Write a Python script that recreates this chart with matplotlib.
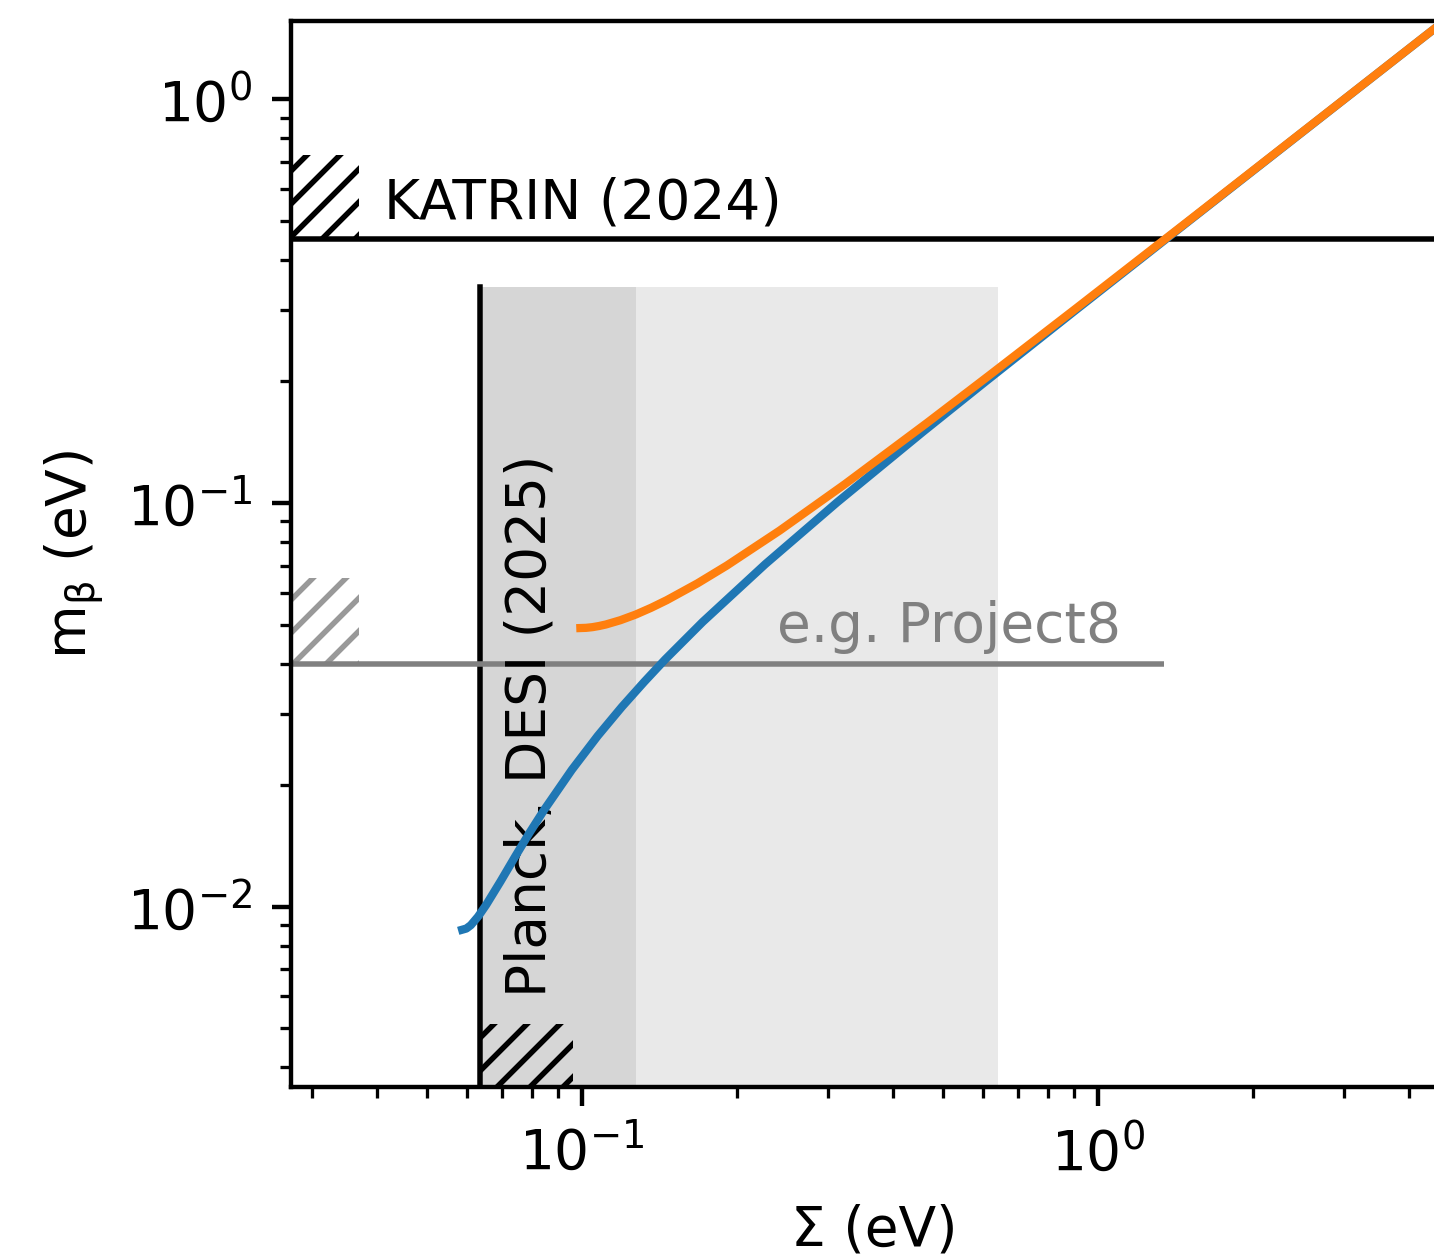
import numpy as np
import matplotlib
matplotlib.use("Agg")
from matplotlib import pyplot as plt
from matplotlib.patches import Rectangle

# normal ordering: sum of masses vs effective beta-decay mass (eV)
sum_no = [0.0586, 0.0597, 0.0609, 0.0629, 0.0652, 0.0695, 0.0742, 0.0792, 0.0845,
          0.0956, 0.1073, 0.1195, 0.1321, 0.1449, 0.1714, 0.2266, 0.3122, 0.4584,
          0.6064, 0.9043, 1.5026, 3.001, 6.0]
mbeta_no = [0.00877, 0.00883, 0.0090, 0.00945, 0.0101, 0.01154, 0.0133, 0.01527, 0.01738,
            0.02184, 0.0265, 0.03126, 0.03608, 0.04095, 0.05076, 0.07055, 0.10038, 0.15026,
            0.2002, 0.30013, 0.5001, 1.0, 2.0]

# inverted ordering
sum_io = [0.0993, 0.1019, 0.1048, 0.1079, 0.1113, 0.1187, 0.1271, 0.1362, 0.1460,
          0.1675, 0.1909, 0.2416, 0.3233, 0.4660, 0.6121, 0.9082, 1.5049, 3.0024, 6.0012]
mbeta_io = [0.04901, 0.04907, 0.04926, 0.04958, 0.05002, 0.05125, 0.05293, 0.05502, 0.05746,
            0.06326, 0.07001, 0.08545, 0.11137, 0.15780, 0.20596, 0.30400, 0.5024, 1.0012, 2.0006]

# limits / bounds
katrin = 0.45
project8 = 0.04
project8_end = 1.34
planck_desi = 0.0634
band_dark = 0.1273
band_light = 0.640

xlim = (0.02726, 5.0)
ylim = (0.003569, 1.566)

fig = plt.figure(figsize=(1434 / 396, 1254 / 396), dpi=396)
ax = fig.add_axes([0.2027, 0.1329, 0.8145, 0.8506])
ax.set_xscale('log')
ax.set_yscale('log')
ax.set_xlim(xlim)
ax.set_ylim(ylim)

# cosmology bands
ax.axvspan(planck_desi, band_light, ymax=0.75, color='#e9e9e9', lw=0, zorder=0)
ax.axvspan(planck_desi, band_dark, ymax=0.75, color='#d6d6d6', lw=0, zorder=0)
ax.axvline(planck_desi, ymax=0.75, color='k', lw=1)

# KATRIN
ax.axhline(katrin, color='k', lw=1)
ax.add_patch(Rectangle((xlim[0], katrin), 0.0370 - xlim[0], 0.728 - katrin,
                       fill=False, hatch='////', lw=0, edgecolor='k'))
ax.text(0.0413, 0.508, 'KATRIN (2024)', va='baseline', ha='left')

# Project8
ax.hlines(project8, xlim[0], project8_end, color='gray', lw=1)
ax.add_patch(Rectangle((xlim[0], project8), 0.0370 - xlim[0], 0.0652 - project8,
                       fill=False, hatch='////', lw=0, edgecolor='#999999'))
ax.text(0.2385, 0.0453, 'e.g. Project8', va='baseline', ha='left', color='gray')

# Planck/DESI
ax.add_patch(Rectangle((planck_desi, ylim[0]), 0.0960 - planck_desi, 0.00512 - ylim[0],
                       fill=False, hatch='////', lw=0, edgecolor='k'))
ax.text(0.0848, 0.005973, 'Planck, DESI (2025)', rotation=90, rotation_mode='anchor',
        ha='left', va='baseline')

ax.plot(sum_no, mbeta_no, color='tab:blue', lw=1.5, zorder=4)
ax.plot(sum_io, mbeta_io, color='tab:orange', lw=1.5, zorder=4)

ax.set_xlabel('Σ (eV)')
ax.set_ylabel(r'$\mathregular{m_β}$ (eV)')

fig.savefig('out.png', dpi=396)
